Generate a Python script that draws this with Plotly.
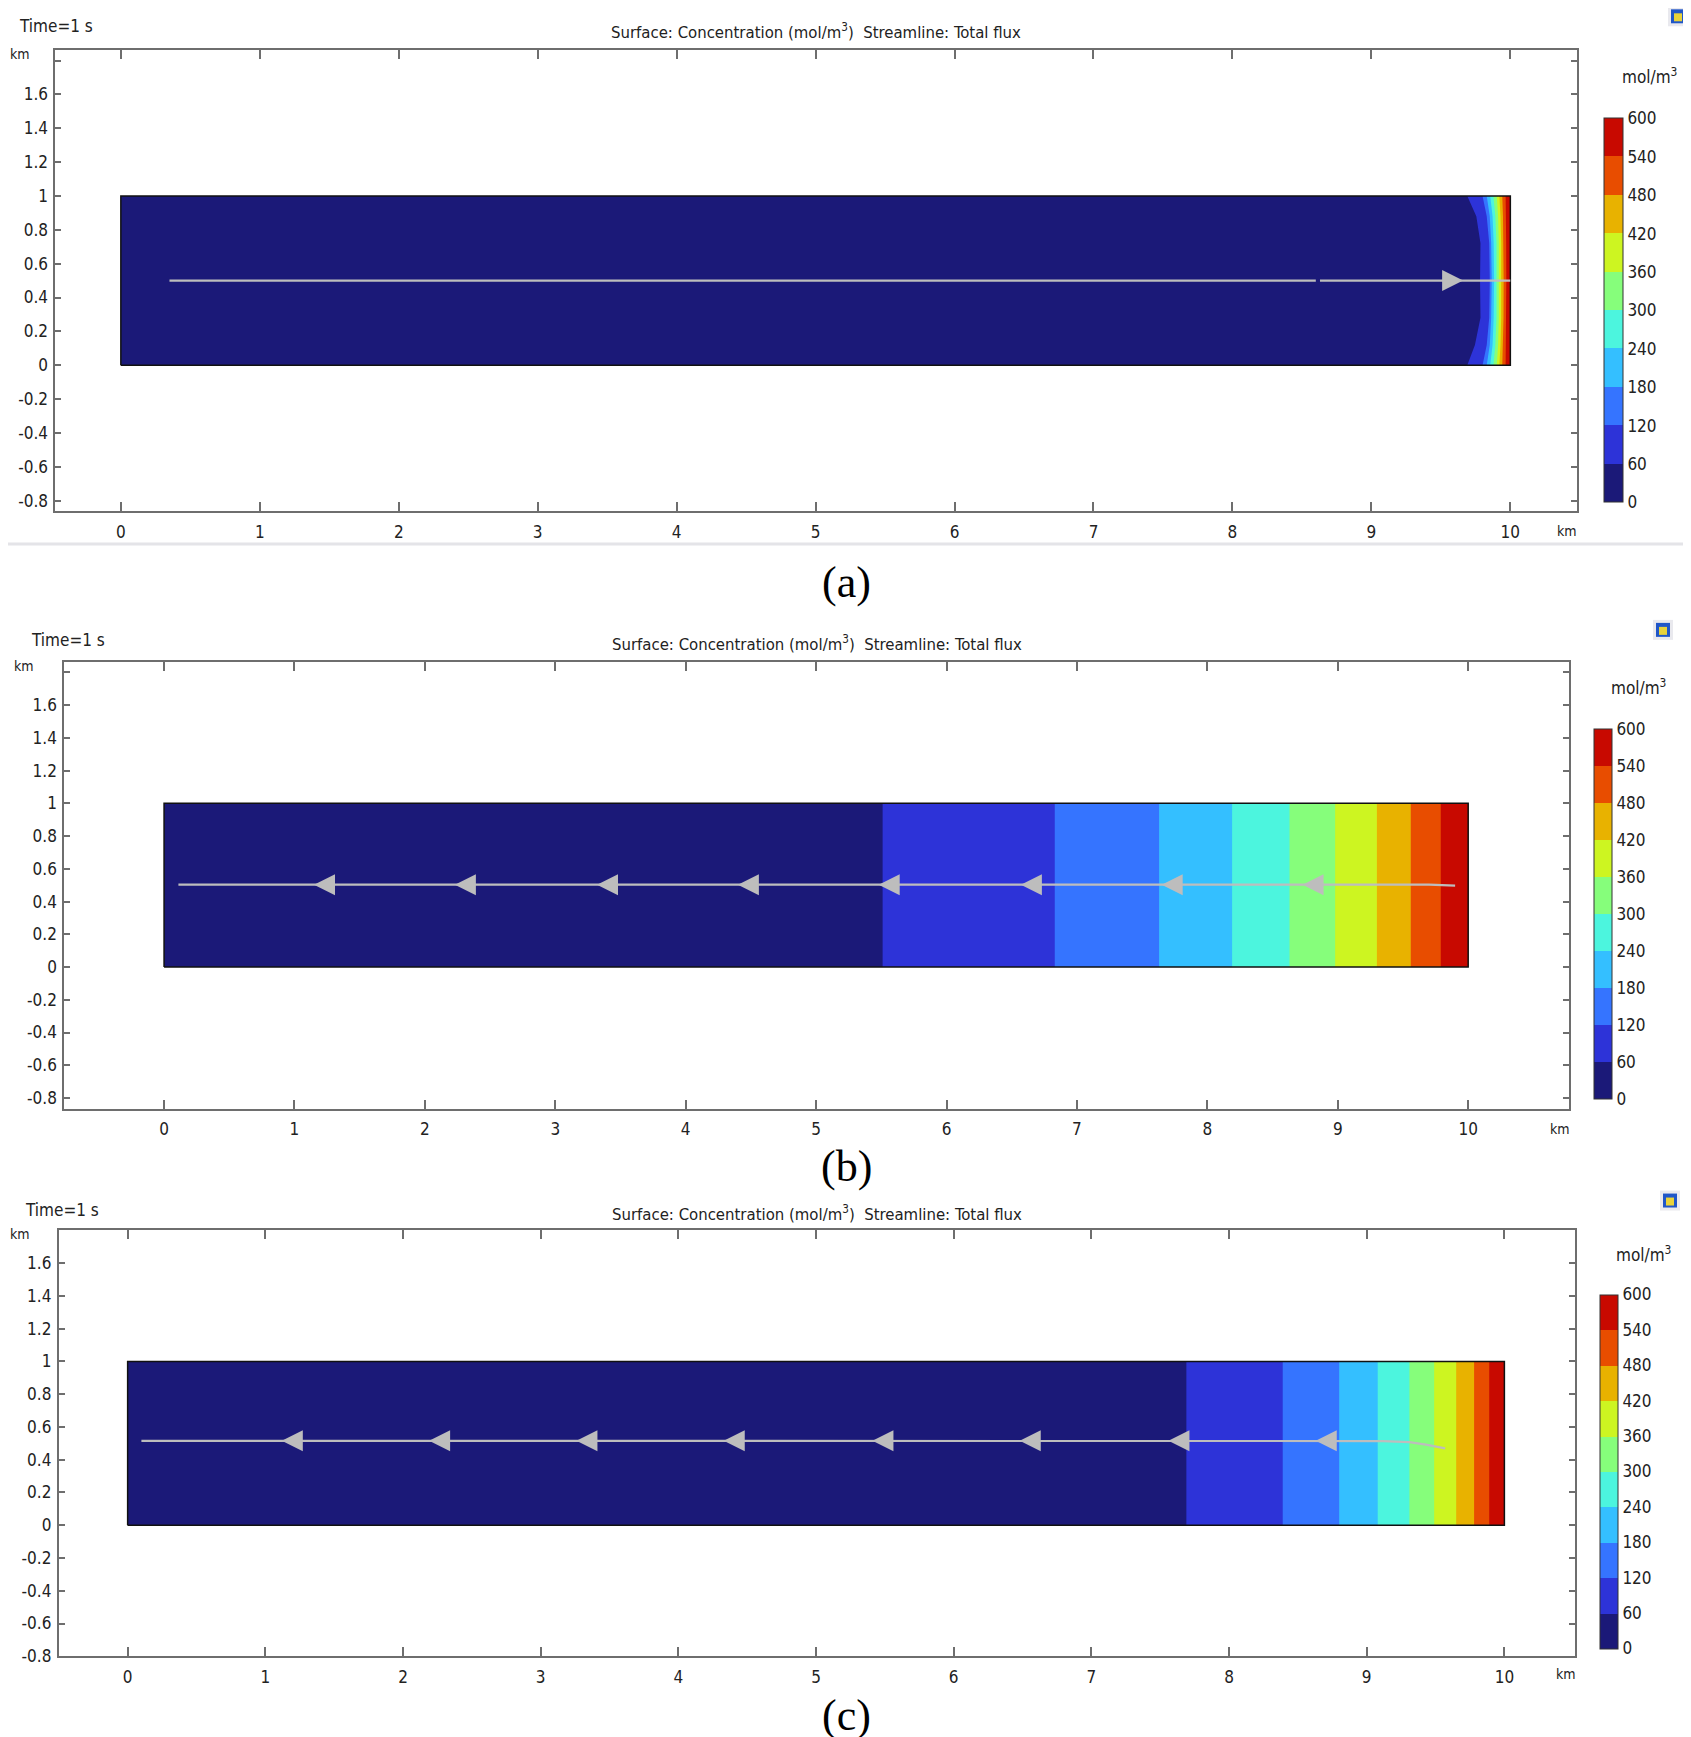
import plotly.graph_objects as go

W, H = 1691, 1737

# concentration bands (mol/m^3) and their colours
LEVELS = [0, 60, 120, 180, 240, 300, 360, 420, 480, 540, 600]
BAND_COLORS = ["#1b1978", "#2d33d8", "#3574ff", "#34bfff", "#4cf5de",
               "#86fe7b", "#cdf521", "#e8b200", "#e84d00", "#c80900"]

X_TICKS = [0, 1, 2, 3, 4, 5, 6, 7, 8, 9, 10]
Y_TICKS = [-0.8, -0.6, -0.4, -0.2, 0, 0.2, 0.4, 0.6, 0.8, 1, 1.2, 1.4, 1.6, 1.8]
Y_TICK_TEXT = ["-0.8", "-0.6", "-0.4", "-0.2", "0", "0.2", "0.4", "0.6", "0.8",
               "1", "1.2", "1.4", "1.6", ""]

DOMAIN_X = [0, 10, 10, 0, 0]   # km
DOMAIN_Y = [0, 0, 1, 1, 0]

# (a) curved front near the right boundary: x of each contour (60..540) at A_Y
A_Y = [0, 0.12, 0.28, 0.5, 0.72, 0.88, 1]
A_EDGES = [
    [9.69, 9.745, 9.785, 9.782, 9.785, 9.755, 9.69],
    [9.80, 9.83, 9.848, 9.852, 9.848, 9.83, 9.80],
    [9.83, 9.852, 9.862, 9.866, 9.862, 9.852, 9.83],
    [9.855, 9.872, 9.88, 9.883, 9.88, 9.872, 9.855],
    [9.878, 9.892, 9.90, 9.902, 9.90, 9.892, 9.878],
    [9.902, 9.912, 9.917, 9.919, 9.917, 9.912, 9.902],
    [9.921, 9.929, 9.934, 9.935, 9.934, 9.929, 9.921],
    [9.942, 9.947, 9.951, 9.952, 9.951, 9.947, 9.942],
    [9.966, 9.968, 9.970, 9.971, 9.970, 9.968, 9.966],
]
A_FLOW_X = [0.35, 8.60, None, 8.63, 10.0]
A_FLOW_Y = [0.5, 0.5, None, 0.5, 0.5]
A_ARROW_X = [9.66]
A_ARROW_Y = [0.5]

# (b) vertical contour positions (km) for 60..540
B_Y = [0, 1]
B_EDGES = [5.51, 6.83, 7.63, 8.19, 8.63, 8.98, 9.30, 9.56, 9.79]
B_FLOW_X = [0.11, 9.70, 9.90]
B_FLOW_Y = [0.503, 0.503, 0.497]
B_ARROW_X = [1.15, 2.23, 3.32, 4.40, 5.48, 6.57, 7.65, 8.73]
B_ARROW_Y = [0.503] * 8

# (c)
C_Y = [0, 1]
C_EDGES = [7.69, 8.39, 8.80, 9.08, 9.31, 9.49, 9.65, 9.78, 9.89]
C_FLOW_X = [0.10, 8.78, 9.12, 9.31, 9.43, 9.57]
C_FLOW_Y = [0.515, 0.515, 0.514, 0.507, 0.492, 0.469]
C_ARROW_X = [1.12, 2.19, 3.26, 4.33, 5.41, 6.48, 7.56, 8.63]
C_ARROW_Y = [0.515] * 8

FONT = "DejaVu Sans Condensed, Liberation Sans Narrow, DejaVu Sans, sans-serif"
AXIS_GRAY = "#6e6e6e"
FLOW_GRAY = "#bdbdbd"

# the page body adds a small margin; positions below are page pixels
PAGE_DX = 8


def px(x):
    return (x - PAGE_DX) / W


def py(y):
    dy = 5.7 - 5.7 * y / 1650
    return 1 - (y - dy) / H


# pixel boxes of each panel: plot area, colorbar, text anchors
PANELS = [
    dict(box=(55.4, 1576.9, 47.7, 510.1), xr=[-0.471, 10.479], yr=[-0.863, 1.863],
         cbar=(1603.5, 116.4, 502.3, 19), unit=(1649, 74), time=(17, 24),
         title=(816, 29), ykm=(8, 52), xkm=(1567, 530), logo=(1678, 14),
         label=("(a)", 846, 582)),
    dict(box=(64.3, 1569.1, 660.9, 1108.9), xr=[-0.765, 10.774], yr=[-0.865, 1.865],
         cbar=(1593.5, 728.5, 1101.1, 18), unit=(1638, 686), time=(29, 639),
         title=(817, 642), ykm=(12, 665), xkm=(1560, 1129), logo=(1663, 629),
         label=("(b)", 846, 1167)),
    dict(box=(58.8, 1574.6, 1230.9, 1657.8), xr=[-0.50, 10.51], yr=[-0.80, 1.80],
         cbar=(1600.1, 1295.2, 1651.2, 18), unit=(1643, 1255), time=(23, 1210),
         title=(817, 1213), ykm=(8, 1235), xkm=(1566, 1676), logo=(1670, 1201),
         label=("(c)", 846, 1717)),
]

DATA = [
    (A_Y, A_EDGES, A_FLOW_X, A_FLOW_Y, A_ARROW_X, A_ARROW_Y, "arrow-right"),
    (B_Y, [[e, e] for e in B_EDGES], B_FLOW_X, B_FLOW_Y, B_ARROW_X, B_ARROW_Y,
     "arrow-left"),
    (C_Y, [[e, e] for e in C_EDGES], C_FLOW_X, C_FLOW_Y, C_ARROW_X, C_ARROW_Y,
     "arrow-left"),
]

colorscale = []
for i, c in enumerate(BAND_COLORS):
    colorscale.append([i / 10, c])
    colorscale.append([(i + 1) / 10, c])

fig = go.Figure()
annotations = []
shapes = []
layout = {}


def note(text, x, y, xanchor="center", font=None):
    return dict(text=text, x=px(x), y=py(y), xref="paper", yref="paper",
                xanchor=xanchor, yanchor="middle", showarrow=False, font=font)


for n, (panel, data) in enumerate(zip(PANELS, DATA), start=1):
    ys, edges, fx, fy, ax_, ay_, symbol = data
    sfx = "" if n == 1 else str(n)
    xa, ya = "x" + sfx, "y" + sfx

    # base of the domain (lowest band)
    fig.add_trace(go.Scatter(x=DOMAIN_X, y=DOMAIN_Y, fill="toself", mode="lines",
                             fillcolor=BAND_COLORS[0], line=dict(width=0),
                             xaxis=xa, yaxis=ya, showlegend=False, hoverinfo="skip"))
    # higher bands painted from each contour to the right edge
    for k, edge in enumerate(edges):
        xs = list(edge) + [DOMAIN_X[1], DOMAIN_X[1]]
        yv = list(ys) + [ys[-1], ys[0]]
        fig.add_trace(go.Scatter(x=xs, y=yv, fill="toself", mode="lines",
                                 fillcolor=BAND_COLORS[k + 1], line=dict(width=0),
                                 xaxis=xa, yaxis=ya, showlegend=False,
                                 hoverinfo="skip"))
    # domain outline
    fig.add_trace(go.Scatter(x=DOMAIN_X, y=DOMAIN_Y, mode="lines",
                             line=dict(color="#111111", width=1.5),
                             xaxis=xa, yaxis=ya, showlegend=False, hoverinfo="skip"))
    # streamline
    fig.add_trace(go.Scatter(x=fx, y=fy, mode="lines",
                             line=dict(color=FLOW_GRAY, width=2.2),
                             xaxis=xa, yaxis=ya, showlegend=False, hoverinfo="skip"))
    fig.add_trace(go.Scatter(x=ax_, y=ay_, mode="markers",
                             marker=dict(symbol=symbol, size=21, color=FLOW_GRAY,
                                         line=dict(width=0)),
                             xaxis=xa, yaxis=ya, showlegend=False, hoverinfo="skip"))
    # colour legend
    cax = "coloraxis" + sfx
    fig.add_trace(go.Scatter(x=[None], y=[None], mode="markers",
                             marker=dict(color=[0], coloraxis=cax),
                             xaxis=xa, yaxis=ya, showlegend=False, hoverinfo="skip"))

    x0, x1, y0, y1 = panel["box"]
    cx, ct, cb, cth = panel["cbar"]
    layout[cax] = dict(
        colorscale=colorscale, cmin=LEVELS[0], cmax=LEVELS[-1],
        colorbar=dict(
            x=px(cx), xanchor="left", y=py(ct), yanchor="top",
            len=(cb - ct) / H, lenmode="fraction", thickness=cth,
            thicknessmode="pixels", xpad=0, ypad=0,
            outlinewidth=1, outlinecolor="#333333",
            tickvals=LEVELS, ticktext=[str(v) for v in LEVELS], ticks="",
            tickfont=dict(family=FONT, size=17, color="#222222"),
        ),
    )
    axis_common = dict(showline=True, linecolor=AXIS_GRAY, linewidth=2,
                       mirror="ticks", ticks="inside", tickcolor=AXIS_GRAY,
                       tickwidth=1.5, showgrid=False, zeroline=False,
                       tickfont=dict(family=FONT, size=17, color="#222222"))
    layout["xaxis" + sfx] = dict(domain=[px(x0), px(x1)], range=panel["xr"],
                                 anchor=ya, tickvals=X_TICKS,
                                 ticktext=[str(v) for v in X_TICKS], ticklen=9,
                                 ticklabelstandoff=4, **axis_common)
    layout["yaxis" + sfx] = dict(domain=[py(y1), py(y0)], range=panel["yr"],
                                 anchor=xa, tickvals=Y_TICKS, ticktext=Y_TICK_TEXT,
                                 ticklen=6, ticklabelstandoff=2, **axis_common)

    small = dict(family=FONT, size=17, color="#222222")
    title_font = dict(family=FONT, size=16.6, color="#222222")
    unit_font = dict(family=FONT, size=14, color="#222222")
    annotations += [
        note("Time=1 s", *panel["time"], xanchor="left", font=small),
        note("Surface: Concentration (mol/m<sup>3</sup>)  Streamline: Total flux",
             *panel["title"], font=title_font),
        note("km", *panel["ykm"], xanchor="left", font=unit_font),
        note("km", *panel["xkm"], font=unit_font),
        note("mol/m<sup>3</sup>", *panel["unit"], font=small),
        note(panel["label"][0], panel["label"][1], panel["label"][2],
             font=dict(family="Liberation Serif, Times New Roman, serif", size=44,
                       color="#000000")),
    ]
    lx, ly = panel["logo"]
    shapes += [
        dict(type="rect", xref="paper", yref="paper", x0=px(lx - 10), x1=px(lx + 10),
             y0=py(ly + 10), y1=py(ly - 10), fillcolor="#e9e9ee",
             line=dict(width=0)),
        dict(type="rect", xref="paper", yref="paper", x0=px(lx - 7), x1=px(lx + 7),
             y0=py(ly + 7), y1=py(ly - 7), fillcolor="#1f56c8",
             line=dict(width=0)),
        dict(type="rect", xref="paper", yref="paper", x0=px(lx - 4), x1=px(lx + 4),
             y0=py(ly + 5), y1=py(ly - 3), fillcolor="#e8d23a",
             line=dict(width=0)),
    ]

# light separator under the first panel
shapes.append(dict(type="line", xref="paper", yref="paper", x0=0, x1=1,
                   y0=py(543), y1=py(543), line=dict(color="#e4e4e8", width=3)))

fig.update_layout(
    width=W, height=H, margin=dict(l=0, r=0, t=0, b=0),
    paper_bgcolor="white", plot_bgcolor="white",
    annotations=annotations, shapes=shapes, **layout,
)

fig.write_html("out.html")
